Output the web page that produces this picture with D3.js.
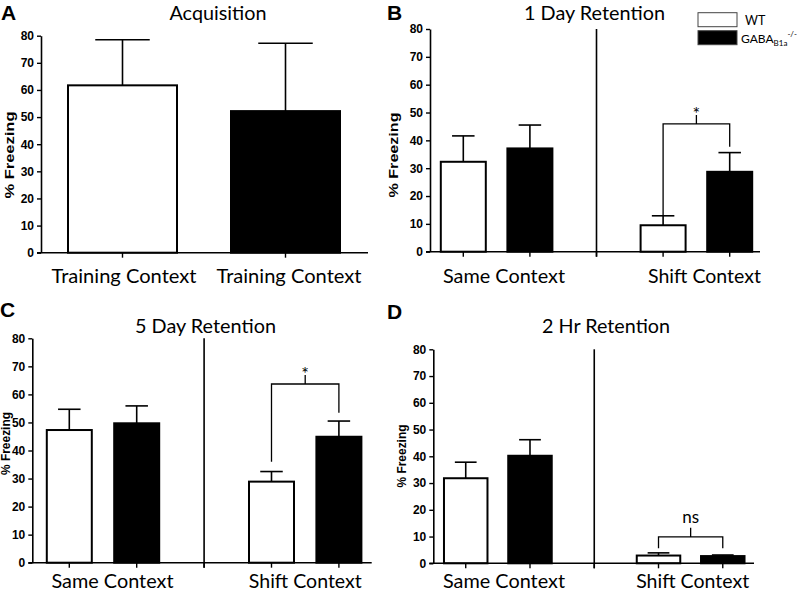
<!DOCTYPE html>
<html><head><meta charset="utf-8">
<script src="https://cdn.jsdelivr.net/npm/d3@7/dist/d3.min.js"></script>
<style>body{margin:0;background:#fff}svg{display:block}</style>
</head><body><svg id="c" width="800" height="593"></svg>
<script>
// ---------- data ----------
const yTicks = [0, 10, 20, 30, 40, 50, 60, 70, 80];
const acqCategories = ["Training Context", "Training Context"];
const acqMean = [61.7, 52.2];
const acqSem = [16.8, 25.0];

const contextGroups = ["Same Context", "Shift Context"];
const genotypes = ["WT", "GABA"];

const day1WT = [32.3, 9.5];
const day1WTsem = [9.3, 3.4];
const day1KO = [37.1, 28.7];
const day1KOsem = [8.4, 6.9];

const day5WT = [47.3, 28.9];
const day5WTsem = [7.4, 3.6];
const day5KO = [49.7, 44.9];
const day5KOsem = [6.2, 5.6];

const hr2WT = [31.8, 2.9];
const hr2WTsem = [6.0, 1.0];
const hr2KO = [40.2, 2.7];
const hr2KOsem = [6.0, 0.4];

// significance brackets: [bracket level, left leg end, right leg end]
const day1Sig = [45.9, 13.2, 37.7];
const day5Sig = [63.7, 36.0, 53.5];
const hr2Sig = [9.9, 5.6, 5.6];
const sigLabels = ["*", "*", "ns"];

const titles = ["Acquisition", "1 Day Retention", "5 Day Retention", "2 Hr Retention"];
const letters = ["A", "B", "C", "D"];

// ---------- drawing ----------
const svg = d3.select("#c");
const SANS = "'Liberation Sans', Arial, sans-serif";
const CAL = "Lato, 'Open Sans', sans-serif";

function panel(cfg) {
  const g = svg.append("g");
  const y = d3.scaleLinear().domain([0, 80]).range([cfg.y0, cfg.y80]);
  const x = d3.scalePoint().domain(cfg.keys).range(cfg.xRange).padding(0.5);

  g.append("text").attr("x", cfg.letter[0]).attr("y", cfg.letter[1])
    .attr("font-family", SANS).attr("font-weight", "bold").attr("font-size", 21)
    .text(cfg.letterText);
  g.append("text").attr("x", cfg.title[0]).attr("y", cfg.title[1])
    .attr("text-anchor", "middle").attr("font-family", CAL).attr("font-size", 19)
    .attr("textLength", cfg.title[2]).attr("lengthAdjust", "spacingAndGlyphs")
    .text(cfg.titleText);

  const ya = g.append("g").attr("transform", `translate(${cfg.axisX},0)`)
    .call(d3.axisLeft(y).tickValues(yTicks).tickSize(4).tickSizeOuter(0).tickPadding(3));
  ya.select(".domain").attr("stroke", "#000").attr("stroke-width", 1.6);
  ya.selectAll(".tick line").attr("stroke", "#000").attr("stroke-width", 1.4);
  ya.selectAll(".tick text").attr("font-family", SANS).attr("font-weight", "bold")
    .attr("font-size", 12).attr("fill", "#000");

  g.append("text").attr("transform", `translate(${cfg.ylab[0]},${cfg.ylab[1]}) rotate(-90)`)
    .attr("text-anchor", "middle").attr("font-family", SANS).attr("font-weight", "bold")
    .attr("font-size", 12).attr("textLength", cfg.ylab[2]).attr("lengthAdjust", "spacingAndGlyphs")
    .attr("dy", "0.35em").text("% Freezing");

  const bars = cfg.bars;
  const bw = cfg.bw;
  g.selectAll("rect.bar").data(bars).enter().append("rect")
    .attr("x", d => x(d.key) - bw / 2).attr("width", bw)
    .attr("y", d => y(d.mean)).attr("height", d => y(0) - y(d.mean))
    .attr("fill", d => d.fill).attr("stroke", "#000").attr("stroke-width", 2);
  g.selectAll("line.eb").data(bars).enter().append("line")
    .attr("x1", d => x(d.key)).attr("x2", d => x(d.key))
    .attr("y1", d => y(d.mean)).attr("y2", d => y(d.mean + d.sem))
    .attr("stroke", "#000").attr("stroke-width", 1.6);
  g.selectAll("line.cap").data(bars).enter().append("line")
    .attr("x1", d => x(d.key) - bw / 4).attr("x2", d => x(d.key) + bw / 4)
    .attr("y1", d => y(d.mean + d.sem)).attr("y2", d => y(d.mean + d.sem))
    .attr("stroke", "#000").attr("stroke-width", 1.6);

  g.append("line").attr("x1", cfg.axisX - 4).attr("x2", cfg.axisEnd)
    .attr("y1", y(0)).attr("y2", y(0)).attr("stroke", "#000").attr("stroke-width", 1.6);
  g.selectAll("line.xt").data(cfg.keys).enter().append("line")
    .attr("x1", d => x(d)).attr("x2", d => x(d))
    .attr("y1", y(0)).attr("y2", y(0) + 5).attr("stroke", "#000").attr("stroke-width", 1.4);

  if (cfg.keys.includes("div")) {
    g.append("line").attr("x1", x("div")).attr("x2", x("div"))
      .attr("y1", y(80)).attr("y2", y(0) + 5).attr("stroke", "#000").attr("stroke-width", 1.6);
  }

  g.selectAll("text.cat").data(cfg.cats).enter().append("text")
    .attr("x", d => d.cx).attr("y", cfg.catY)
    .attr("text-anchor", "middle").attr("font-family", CAL).attr("font-size", 20)
    .attr("textLength", d => d.len).attr("lengthAdjust", "spacingAndGlyphs")
    .text(d => d.label);

  if (cfg.sig) {
    const [lvl, lEnd, rEnd] = cfg.sig;
    const xl = x(cfg.keys[3]), xr = x(cfg.keys[4]), xm = (xl + xr) / 2;
    const p = d3.path();
    p.moveTo(xl, y(lEnd)); p.lineTo(xl, y(lvl)); p.lineTo(xr, y(lvl)); p.lineTo(xr, y(rEnd));
    p.moveTo(xm, y(lvl)); p.lineTo(xm, y(lvl) - 9);
    g.append("path").attr("d", p.toString()).attr("fill", "none")
      .attr("stroke", "#000").attr("stroke-width", 1.3);
    const isStar = cfg.sigLabel === "*";
    g.append("text").attr("x", xm).attr("y", y(lvl) - (isStar ? 4 : 14))
      .attr("text-anchor", "middle").attr("font-family", CAL)
      .attr("font-size", isStar ? 18 : 17).text(cfg.sigLabel);
  }
}

function fourBars(wt, wtSem, ko, koSem) {
  return [
    {key: "Same|WT", mean: wt[0], sem: wtSem[0], fill: "#fff"},
    {key: "Same|KO", mean: ko[0], sem: koSem[0], fill: "#000"},
    {key: "Shift|WT", mean: wt[1], sem: wtSem[1], fill: "#fff"},
    {key: "Shift|KO", mean: ko[1], sem: koSem[1], fill: "#000"}
  ];
}
const keys4 = ["Same|WT", "Same|KO", "div", "Shift|WT", "Shift|KO"];

panel({
  letterText: letters[0], letter: [1, 20], titleText: titles[0], title: [218, 20, 97],
  y0: 252.7, y80: 35.7, axisX: 41, axisEnd: 368, xRange: [41, 367], keys: ["a0", "a1"],
  bw: 109, ylab: [10, 155, 87],
  bars: [
    {key: "a0", mean: acqMean[0], sem: acqSem[0], fill: "#fff"},
    {key: "a1", mean: acqMean[1], sem: acqSem[1], fill: "#000"}
  ],
  cats: [{label: acqCategories[0], cx: 124, len: 145}, {label: acqCategories[1], cx: 289, len: 145}],
  catY: 282.7
});

panel({
  letterText: letters[1], letter: [387, 20], titleText: titles[1], title: [594.5, 19.5, 141],
  y0: 251.7, y80: 29, axisX: 430, axisEnd: 760, xRange: [430, 763], keys: keys4,
  bw: 45, ylab: [394, 155, 85],
  bars: fourBars(day1WT, day1WTsem, day1KO, day1KOsem),
  cats: [{label: contextGroups[0], cx: 504, len: 122}, {label: contextGroups[1], cx: 704.5, len: 113}],
  catY: 282.7, sig: day1Sig, sigLabel: sigLabels[0]
});

panel({
  letterText: letters[2], letter: [0, 316.5], titleText: titles[2], title: [205.5, 333.3, 141],
  y0: 562.7, y80: 338.3, axisX: 32.3, axisEnd: 371.7, xRange: [35.6, 372.6], keys: keys4,
  bw: 45, ylab: [6, 443.5, 63],
  bars: fourBars(day5WT, day5WTsem, day5KO, day5KOsem),
  cats: [{label: contextGroups[0], cx: 112.5, len: 122}, {label: contextGroups[1], cx: 305.3, len: 113}],
  catY: 588, sig: day5Sig, sigLabel: sigLabels[1]
});

panel({
  letterText: letters[3], letter: [387, 319], titleText: titles[3], title: [606, 333.3, 128],
  y0: 563.3, y80: 349.3, axisX: 433.3, axisEnd: 754, xRange: [433.6, 754.9], keys: keys4,
  bw: 43.5, ylab: [402, 456, 63],
  bars: fourBars(hr2WT, hr2WTsem, hr2KO, hr2KOsem),
  cats: [{label: contextGroups[0], cx: 504, len: 122}, {label: contextGroups[1], cx: 692.7, len: 113}],
  catY: 588, sig: hr2Sig, sigLabel: sigLabels[2]
});

const legend = svg.append("g");
const legendItems = [{fill: "#fff", y: 12.7}, {fill: "#000", y: 30.7}];
legend.selectAll("rect").data(legendItems).enter().append("rect")
  .attr("x", 698).attr("y", d => d.y).attr("width", 39).attr("height", 14)
  .attr("fill", d => d.fill).attr("stroke", "#444").attr("stroke-width", 1);
legend.append("text").attr("x", 745).attr("y", 25).attr("font-family", CAL).attr("font-size", 12.5)
  .text(genotypes[0]);
const gt = legend.append("text").attr("x", 741).attr("y", 43).attr("font-family", CAL).attr("font-size", 12);
gt.append("tspan").text(genotypes[1]);
gt.append("tspan").attr("font-size", 8).attr("dy", 3).text("B1a");
gt.append("tspan").attr("font-size", 8).attr("dy", -9).text("-/-");
</script></body></html>
